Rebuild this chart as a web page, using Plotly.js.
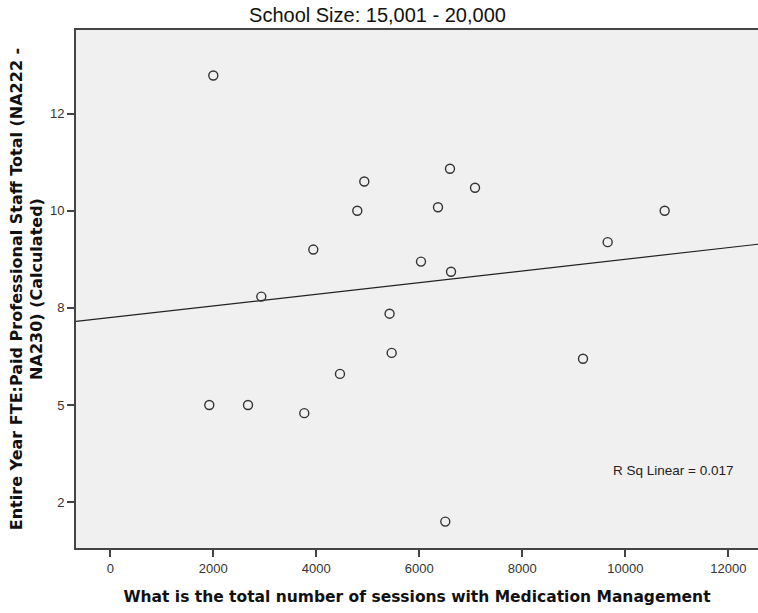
<!DOCTYPE html>
<html><head><meta charset="utf-8">
<script src="https://cdn.plot.ly/plotly-3.0.1.min.js"></script>
<style>html,body{margin:0;padding:0;background:#fff}</style>
</head><body>
<div id="chart" style="width:758px;height:613px"></div>
<script>
// Data
const sessions = [2000, 4932, 4796, 3942, 2932, 1922, 2674, 3767, 4460, 6596, 7082, 6363, 6033, 6616, 5423, 5464, 10765, 9658, 9179, 6505];
const fteStaff = [13.48, 10.75, 10.0, 9.0, 7.79, 5.0, 5.0, 4.79, 5.8, 11.08, 10.59, 10.09, 8.69, 8.43, 7.35, 6.34, 10.0, 9.19, 6.19, 2.0];
const xTickVals = [0, 2000, 4000, 6000, 8000, 10000, 12000];
const xTickText = ["0", "2000", "4000", "6000", "8000", "10000", "12000"];
const yTickVals = [2.5, 5, 7.5, 10, 12.5];
const yTickText = ["2", "5", "8", "10", "12"];
const fitIntercept = 7.25;
const fitSlope = 0.000150;
const rSqLabel = "R Sq Linear = 0.017";
const chartTitle = "School Size: 15,001 - 20,000";
const xTitle = "What is the total number of sessions with Medication Management";
const yTitle = "Entire Year FTE:Paid Professional Staff Total (NA222 -<br>NA230) (Calculated)";
const xRange = [-666, 12577];
const yRange = [1.32, 14.65];

const fitX = xRange.slice();
const fitY = fitX.map(v => fitIntercept + fitSlope * v);

const traces = [
  {
    type: 'scatter', mode: 'lines', x: fitX, y: fitY,
    line: {color: '#222', width: 1.2}, hoverinfo: 'skip', showlegend: false
  },
  {
    type: 'scatter', mode: 'markers', x: sessions, y: fteStaff,
    marker: {symbol: 'circle-open', size: 9, color: '#333', line: {width: 1.4}},
    showlegend: false
  }
];

const axisColor = '#444';
const layout = {
  width: 758, height: 613,
  margin: {l: 76, r: 0, t: 30, b: 65, pad: 0},
  paper_bgcolor: '#ffffff',
  plot_bgcolor: '#f0f0f0',
  showlegend: false,
  title: {
    text: chartTitle,
    font: {family: '"Liberation Sans", Arial, sans-serif', size: 20, color: '#111'},
    xref: 'container', x: 0.498, xanchor: 'center',
    yref: 'container', y: 0.9755, yanchor: 'middle'
  },
  xaxis: {
    range: xRange, autorange: false,
    tickmode: 'array', tickvals: xTickVals, ticktext: xTickText,
    ticks: 'outside', ticklen: 7, tickwidth: 1.5, tickcolor: axisColor,
    showline: true, linecolor: axisColor, linewidth: 2, mirror: true,
    showgrid: false, zeroline: false,
    tickfont: {family: '"Liberation Sans", Arial, sans-serif', size: 13, color: '#333'},
    title: {text: xTitle, standoff: 17,
      font: {family: '"DejaVu Sans", Verdana, sans-serif', size: 15.5, color: '#111', weight: 'bold'}}
  },
  yaxis: {
    range: yRange, autorange: false,
    tickmode: 'array', tickvals: yTickVals, ticktext: yTickText,
    ticks: 'outside', ticklen: 7, tickwidth: 1.5, tickcolor: axisColor,
    showline: true, linecolor: axisColor, linewidth: 2, mirror: false,
    showgrid: false, zeroline: false,
    tickfont: {family: '"Liberation Sans", Arial, sans-serif', size: 13, color: '#333'},
    title: {text: yTitle, standoff: 3,
      font: {family: '"DejaVu Sans", Verdana, sans-serif', size: 16, color: '#111', weight: 'bold'}}
  },
  annotations: [{
    text: rSqLabel, xref: 'paper', yref: 'paper', x: 0.875, y: 0.1497,
    xanchor: 'center', yanchor: 'middle', showarrow: false,
    font: {family: '"Liberation Sans", Arial, sans-serif', size: 13.5, color: '#222'}
  }]
};

Plotly.newPlot('chart', traces, layout, {displayModeBar: false, responsive: false});
</script>
</body></html>
